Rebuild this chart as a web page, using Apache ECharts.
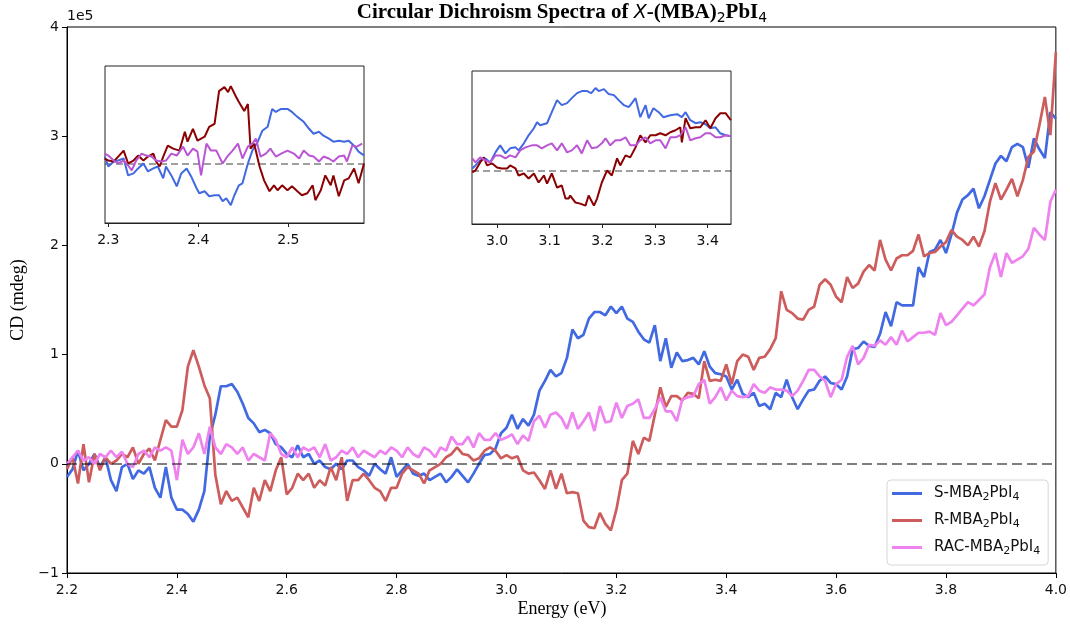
<!DOCTYPE html>
<html><head><meta charset="utf-8">
<script src="https://cdn.jsdelivr.net/npm/echarts@6/dist/echarts.min.js"></script>
<style>html,body{margin:0;padding:0;background:#fff}#c{width:1070px;height:627px}</style>
</head><body><div id="c"></div>
<script>
// ---------- DATA (CD values in units of 1e5 mdeg) ----------
const ENERGY_START = 2.20;   // eV, spectrum sampling start
const ENERGY_STEP = 0.01;    // eV, sampling step

const S_MBA = [
-0.12,-0.05,0.12,-0.06,0.00,0.09,-0.03,0.06,-0.15,-0.25,
-0.03,0.00,-0.14,-0.06,-0.09,-0.03,-0.22,-0.31,-0.03,-0.31,
-0.42,-0.42,-0.46,-0.53,-0.42,-0.25,0.25,0.45,0.71,0.71,
0.73,0.66,0.55,0.42,0.37,0.29,0.31,0.28,0.18,0.15,
0.09,0.06,0.17,0.06,0.09,0.00,0.03,-0.03,-0.05,0.00,
-0.05,0.03,0.03,-0.03,-0.06,-0.11,0.00,-0.05,-0.09,0.06,
-0.12,-0.06,0.00,-0.09,-0.11,-0.09,-0.15,-0.12,-0.09,-0.17,
-0.12,-0.05,-0.11,-0.17,-0.09,0.00,0.08,0.09,0.14,0.28,
0.33,0.45,0.32,0.41,0.35,0.45,0.67,0.76,0.86,0.80,
0.83,0.97,1.23,1.15,1.18,1.33,1.39,1.39,1.36,1.44,
1.38,1.44,1.33,1.30,1.21,1.14,1.11,1.27,0.94,1.15,
0.88,1.02,0.94,0.95,0.97,0.91,1.03,0.89,0.83,0.82,
0.80,0.68,0.77,0.64,0.61,0.65,0.53,0.55,0.50,0.65,
0.61,0.77,0.61,0.50,0.59,0.67,0.68,0.76,0.80,0.74,
0.73,0.68,0.80,1.05,1.06,1.12,1.08,1.07,1.19,1.39,
1.26,1.48,1.45,1.45,1.45,1.80,1.71,1.94,1.96,2.05,
1.93,2.10,2.30,2.42,2.46,2.52,2.34,2.45,2.60,2.75,
2.82,2.77,2.90,2.93,2.90,2.71,2.98,2.88,2.80,3.22,
3.16];

const R_MBA = [
-0.05,0.06,-0.18,0.18,-0.17,0.09,-0.06,0.06,0.00,0.03,
0.09,0.06,0.15,0.00,0.09,0.14,0.03,0.22,0.40,0.34,
0.34,0.49,0.89,1.04,0.89,0.72,0.60,-0.10,-0.37,-0.25,
-0.34,-0.31,-0.40,-0.49,-0.22,-0.34,-0.15,-0.25,-0.06,0.06,
-0.28,-0.22,-0.09,-0.15,-0.09,-0.22,-0.15,-0.20,-0.03,-0.15,
0.06,-0.34,-0.15,-0.15,-0.09,-0.15,-0.22,-0.25,-0.34,-0.22,
-0.22,-0.09,-0.03,-0.06,-0.09,-0.18,-0.06,-0.03,0.00,0.06,
0.09,0.15,0.09,0.08,0.03,0.05,0.12,0.15,0.12,0.05,
0.08,0.05,0.07,-0.06,-0.09,-0.08,-0.15,-0.23,-0.06,-0.23,
-0.09,-0.27,-0.26,-0.27,-0.52,-0.58,-0.59,-0.45,-0.55,-0.61,
-0.42,-0.15,-0.09,0.21,0.09,0.24,0.21,0.45,0.70,0.52,
0.62,0.62,0.58,0.65,0.64,0.60,0.94,0.76,0.77,0.76,
0.91,0.73,0.94,1.00,0.98,0.86,0.97,0.98,1.05,1.15,
1.58,1.41,1.38,1.33,1.32,1.41,1.44,1.64,1.69,1.64,
1.53,1.48,1.71,1.61,1.65,1.76,1.82,1.77,2.05,1.87,
1.77,1.88,1.91,1.91,1.95,2.10,1.90,1.93,1.94,1.99,
2.03,2.14,2.08,2.05,2.00,2.08,1.99,2.13,2.40,2.57,
2.42,2.51,2.61,2.45,2.60,2.81,2.86,3.10,3.36,3.01,
3.77];

const RAC_MBA = [
0.00,0.06,0.12,0.03,0.06,0.00,0.09,0.06,0.12,0.06,
0.11,0.00,-0.03,0.09,0.12,0.06,0.15,0.12,0.15,0.12,
-0.15,0.22,0.09,0.15,0.28,0.09,0.34,0.15,0.09,0.18,
0.15,0.09,0.15,0.03,0.09,0.06,0.03,0.28,0.22,0.09,
0.06,0.15,0.06,0.15,0.12,0.15,0.06,0.18,0.03,0.06,
0.12,0.09,0.15,0.06,0.12,0.09,0.06,0.12,0.09,0.15,
0.12,0.06,0.15,0.09,0.06,0.15,0.12,0.06,0.15,0.12,
0.25,0.18,0.18,0.25,0.15,0.28,0.22,0.22,0.28,0.22,
0.24,0.27,0.18,0.26,0.21,0.39,0.44,0.33,0.45,0.47,
0.42,0.32,0.47,0.32,0.39,0.47,0.30,0.53,0.38,0.39,
0.56,0.42,0.53,0.55,0.59,0.42,0.42,0.50,0.61,0.48,
0.48,0.39,0.59,0.61,0.62,0.73,0.77,0.55,0.61,0.70,
0.58,0.67,0.62,0.61,0.62,0.73,0.67,0.65,0.70,0.68,
0.68,0.67,0.62,0.67,0.76,0.86,0.86,0.80,0.76,0.61,
0.73,0.77,0.98,1.08,0.91,0.97,1.09,1.08,1.13,1.09,
1.16,1.09,1.22,1.12,1.16,1.20,1.20,1.21,1.18,1.38,
1.27,1.30,1.36,1.42,1.48,1.45,1.50,1.55,1.80,1.93,
1.71,1.93,1.84,1.87,1.90,1.97,2.16,2.10,2.05,2.40,
2.51];

// Inset 1 (2.30 - 2.58 eV), arbitrary units
const IN1_S_E = [2.296,2.300,2.306,2.311,2.317,2.322,2.328,2.333,2.339,2.344,2.350,2.355,2.361,2.364,2.370,2.376,2.381,2.387,2.392,2.398,2.401,2.407,2.412,2.418,2.423,2.427,2.431,2.436,2.440,2.445,2.449,2.455,2.460,2.466,2.471,2.477,2.482,2.486,2.492,2.499,2.504,2.510,2.517,2.523,2.528,2.534,2.539,2.545,2.550,2.556,2.562,2.567,2.573,2.578,2.584];
const IN1_S_V = [0.07,-0.03,0.02,0.03,0.05,-0.12,-0.10,-0.05,0,-0.08,-0.05,-0.03,-0.15,-0.03,-0.12,-0.23,-0.10,-0.05,-0.13,-0.25,-0.30,-0.28,-0.33,-0.32,-0.32,-0.38,-0.35,-0.42,-0.32,-0.22,-0.20,0,0.13,0.22,0.33,0.37,0.55,0.52,0.55,0.55,0.52,0.47,0.42,0.35,0.30,0.32,0.28,0.25,0.22,0.23,0.22,0.23,0.18,0.12,0.08];
const IN1_R_E = [2.296,2.300,2.306,2.311,2.317,2.322,2.328,2.333,2.339,2.344,2.350,2.353,2.357,2.361,2.366,2.372,2.379,2.385,2.388,2.394,2.399,2.407,2.412,2.418,2.423,2.429,2.433,2.436,2.442,2.445,2.451,2.455,2.458,2.462,2.468,2.473,2.479,2.484,2.488,2.493,2.499,2.504,2.510,2.515,2.521,2.527,2.530,2.536,2.541,2.547,2.550,2.556,2.562,2.567,2.573,2.578,2.584];
const IN1_R_V = [0.05,0.03,0.02,0.07,0.13,0,0.03,0.08,0.03,0.07,0.10,0.02,-0.03,0.07,0.18,0.15,0.13,0.32,0.22,0.35,0.23,0.27,0.37,0.40,0.73,0.77,0.72,0.78,0.67,0.62,0.53,0.60,0.15,0.20,-0.03,-0.17,-0.28,-0.22,-0.27,-0.22,-0.27,-0.23,-0.28,-0.32,-0.30,-0.22,-0.37,-0.27,-0.12,-0.22,-0.12,-0.33,-0.17,-0.15,-0.05,-0.20,0];
const IN1_RAC_E = [2.296,2.300,2.306,2.311,2.317,2.322,2.326,2.331,2.337,2.342,2.348,2.353,2.359,2.364,2.370,2.376,2.383,2.388,2.394,2.399,2.403,2.409,2.414,2.420,2.427,2.433,2.438,2.444,2.449,2.455,2.460,2.464,2.469,2.475,2.480,2.486,2.492,2.499,2.506,2.512,2.517,2.523,2.528,2.534,2.539,2.545,2.550,2.556,2.562,2.565,2.571,2.576,2.582];
const IN1_RAC_V = [0.10,0.08,0.03,0,0.03,-0.02,-0.07,0.03,0.10,0.08,0.07,0.03,0.02,0.03,0.10,0.08,0.17,0.08,0.15,0.12,-0.12,0.20,0.13,0.13,0,0.08,0.13,0.20,0.05,0.17,0.20,0.25,0.07,0.10,0.15,0.07,0.10,0.13,0.10,0.05,0.13,0.08,0.07,0.02,0.07,0.05,0.02,0.07,0.08,0.02,0.18,0.17,0.20];

// Inset 2 (2.95 - 3.44 eV), arbitrary units
const IN2_S_E = [2.953,2.959,2.968,2.978,2.987,2.997,3.006,3.016,3.025,3.035,3.041,3.051,3.060,3.070,3.076,3.082,3.095,3.104,3.114,3.123,3.133,3.142,3.152,3.161,3.171,3.179,3.187,3.193,3.203,3.212,3.222,3.231,3.241,3.250,3.256,3.263,3.272,3.282,3.288,3.297,3.307,3.316,3.329,3.342,3.351,3.358,3.367,3.377,3.386,3.396,3.405,3.415,3.424,3.434,3.444];
const IN2_S_V = [0.02,0.05,0.10,0.12,0.08,0.18,0.25,0.17,0.22,0.23,0.20,0.27,0.35,0.42,0.48,0.45,0.47,0.58,0.70,0.65,0.67,0.72,0.77,0.79,0.79,0.77,0.82,0.79,0.81,0.76,0.75,0.70,0.65,0.63,0.67,0.72,0.53,0.65,0.52,0.62,0.58,0.53,0.55,0.56,0.53,0.58,0.50,0.47,0.48,0.46,0.42,0.43,0.37,0.35,0.34];
const IN2_R_E = [2.953,2.959,2.968,2.975,2.981,2.991,3.000,3.009,3.019,3.025,3.035,3.041,3.051,3.060,3.070,3.079,3.089,3.095,3.104,3.114,3.123,3.130,3.136,3.139,3.149,3.158,3.168,3.174,3.184,3.190,3.199,3.209,3.218,3.228,3.234,3.244,3.253,3.263,3.272,3.282,3.291,3.301,3.310,3.320,3.329,3.339,3.348,3.351,3.358,3.367,3.377,3.386,3.396,3.405,3.415,3.424,3.434,3.444];
const IN2_R_V = [-0.02,0,0.08,0.13,0.05,0.07,0.03,0.02,0.02,0.05,0.02,-0.05,-0.03,-0.08,-0.03,-0.12,-0.05,-0.13,-0.03,-0.17,-0.15,-0.28,-0.28,-0.25,-0.32,-0.33,-0.35,-0.25,-0.35,-0.28,-0.12,0,-0.05,0.12,0.05,0.15,0.13,0.23,0.35,0.28,0.35,0.35,0.37,0.35,0.38,0.40,0.43,0.28,0.52,0.42,0.43,0.43,0.50,0.42,0.52,0.57,0.57,0.50];
const IN2_RAC_E = [2.953,2.959,2.968,2.978,2.987,2.997,3.006,3.016,3.025,3.035,3.044,3.054,3.066,3.076,3.085,3.095,3.104,3.114,3.123,3.133,3.142,3.152,3.161,3.171,3.180,3.190,3.199,3.206,3.215,3.225,3.234,3.244,3.253,3.263,3.272,3.282,3.291,3.301,3.310,3.320,3.329,3.339,3.348,3.358,3.367,3.377,3.386,3.396,3.405,3.415,3.424,3.434,3.444];
const IN2_RAC_V = [0.12,0.08,0.13,0.10,0.08,0.15,0.15,0.12,0.15,0.13,0.20,0.23,0.25,0.25,0.22,0.25,0.27,0.20,0.27,0.18,0.20,0.25,0.17,0.30,0.22,0.23,0.27,0.32,0.25,0.30,0.30,0.33,0.25,0.25,0.30,0.33,0.27,0.30,0.30,0.22,0.33,0.33,0.35,0.43,0.30,0.32,0.33,0.37,0.37,0.33,0.33,0.35,0.34];

const X_TICKS = [2.2,2.4,2.6,2.8,3.0,3.2,3.4,3.6,3.8,4.0];
const Y_TICKS = [-1,0,1,2,3,4];
const IN1_TICKS = [2.3,2.4,2.5];
const IN2_TICKS = [3.0,3.1,3.2,3.3,3.4];
const SERIES_NAMES = ['S-MBA2PbI4','R-MBA2PbI4','RAC-MBA2PbI4'];

// ---------- BUILD ----------
const mainPairs = arr => arr.map((v,i)=>[+(ENERGY_START + i*ENERGY_STEP).toFixed(2), v]);
const zip = (xs, ys) => xs.map((x,i)=>[x, ys[i]]);

const TICK_FONT = {fontFamily:'DejaVu Sans', fontSize:14, color:'#111'};
const C_S='#4169E1', C_R='#CD5C5C', C_RAC='#EE82EE';
const C_S2='#4169E1', C_R2='#8B0000', C_RAC2='#BA55D3';

function lineSeries(name, data, color, xi, width, z){
  return {name, type:'line', data, xAxisIndex:xi, yAxisIndex:xi, showSymbol:false, symbol:'none',
    lineStyle:{color, width}, itemStyle:{color}, z: z||2, animation:false};
}
function zeroLine(width, dash){
  return {silent:true, symbol:['none','none'], label:{show:false},
    lineStyle:{type:dash, color:'rgba(0,0,0,0.5)', width}, data:[{yAxis:0}], animation:false};
}
function insetX(min, max, ticks){
  return {type:'value', min, max, position:'bottom',
    axisLine:{show:true, onZero:false, lineStyle:{color:'#222', width:1}},
    axisTick:{show:true, inside:false, length:4, customValues:ticks, lineStyle:{color:'#222'}},
    axisLabel:Object.assign({show:true, margin:10, customValues:ticks, formatter:v=>v.toFixed(1)}, TICK_FONT),
    splitLine:{show:false}};
}
function insetY(min, max){
  return {type:'value', min, max, show:false, splitLine:{show:false}};
}

const sRac = lineSeries(SERIES_NAMES[2], mainPairs(RAC_MBA), C_RAC, 0, 2.7, 4);
sRac.markLine = zeroLine(2, [10,5]);

const in1Rac = lineSeries('in1-rac', zip(IN1_RAC_E, IN1_RAC_V), C_RAC2, 1, 2, 6);
in1Rac.markLine = zeroLine(1.6, [7,4]);
const in2Rac = lineSeries('in2-rac', zip(IN2_RAC_E, IN2_RAC_V), C_RAC2, 2, 2, 6);
in2Rac.markLine = zeroLine(1.6, [7,4]);

const richLegend = {
  sp:{width:7},
  a:{fontFamily:'DejaVu Sans', fontSize:15, lineHeight:19, color:'#111'},
  s:{fontFamily:'DejaVu Sans', fontSize:11, lineHeight:11, verticalAlign:'bottom', color:'#111'}
};

const option = {
  animation:false,
  backgroundColor:'#fff',
  grid:[
    {left:67, top:27, width:990, height:546, show:true, borderColor:'#000', borderWidth:1, backgroundColor:'#fff'},
    {left:105, top:66, width:259, height:157, show:true, borderColor:'#222', borderWidth:1, backgroundColor:'#fff', z:5},
    {left:472, top:71, width:259, height:153, show:true, borderColor:'#222', borderWidth:1, backgroundColor:'#fff', z:5}
  ],
  xAxis:[
    {type:'value', gridIndex:0, min:2.2, max:4.0,
      axisLine:{show:true, onZero:false, lineStyle:{color:'#000', width:1}},
      axisTick:{show:true, length:5, customValues:X_TICKS, lineStyle:{color:'#000'}},
      axisLabel:Object.assign({margin:10, customValues:X_TICKS, formatter:v=>v.toFixed(1)}, TICK_FONT),
      splitLine:{show:false}},
    Object.assign(insetX(2.2963, 2.584, IN1_TICKS), {gridIndex:1}),
    Object.assign(insetX(2.9525, 3.4443, IN2_TICKS), {gridIndex:2})
  ],
  yAxis:[
    {type:'value', gridIndex:0, min:-1, max:4,
      axisLine:{show:true, onZero:false, lineStyle:{color:'#000', width:1}},
      axisTick:{show:true, length:5, customValues:Y_TICKS, lineStyle:{color:'#000'}},
      axisLabel:Object.assign({margin:8, customValues:Y_TICKS, formatter:v=> v<0 ? '\u2212'+Math.abs(v) : String(v)}, TICK_FONT),
      splitLine:{show:false}},
    Object.assign(insetY(-0.6, 0.983), {gridIndex:1}),
    Object.assign(insetY(-0.533, 0.99), {gridIndex:2})
  ],
  legend:{
    data:SERIES_NAMES, orient:'vertical', left:887, top:480,
    padding:[6,8,8,5], itemGap:10, itemWidth:30, itemHeight:3, icon:'rect',
    backgroundColor:'#fff', borderColor:'#d6d6d6', borderWidth:1, borderRadius:4,
    formatter: name => { const p = name.split('-MBA2PbI4')[0]; return '{sp|}{a|'+p+'-MBA}{s|2}{a|PbI}{s|4}'; },
    textStyle:{rich:richLegend}
  },
  graphic:[
    {type:'text', x:562, y:13, z:100, style:{
      text:'{b|Circular Dichroism Spectra of }{i|X}{b|-(MBA)}{s|2}{b|PbI}{s|4}',
      align:'center', verticalAlign:'middle',
      rich:{
        b:{fontFamily:'Liberation Serif', fontWeight:'bold', fontSize:21, lineHeight:24, fill:'#000'},
        i:{fontFamily:'DejaVu Sans', fontStyle:'italic', fontSize:19, lineHeight:24, fill:'#000'},
        s:{fontFamily:'DejaVu Sans', fontSize:14, lineHeight:14, verticalAlign:'bottom', fill:'#000'}
      }}},
    {type:'text', x:67, y:16, z:100, style:{text:'1e5', fontFamily:'DejaVu Sans', fontSize:14, fill:'#111', align:'left', verticalAlign:'middle'}},
    {type:'text', x:562, y:609, z:100, style:{text:'Energy (eV)', fontFamily:'Liberation Serif', fontSize:18, fill:'#000', align:'center', verticalAlign:'middle'}},
    {type:'text', x:18, y:300, rotation:Math.PI/2, z:100, style:{text:'CD (mdeg)', fontFamily:'Liberation Serif', fontSize:18, fill:'#000', align:'center', verticalAlign:'middle'}}
  ],
  series:[
    lineSeries(SERIES_NAMES[0], mainPairs(S_MBA), C_S, 0, 2.7, 2),
    lineSeries(SERIES_NAMES[1], mainPairs(R_MBA), C_R, 0, 2.7, 3),
    sRac,
    lineSeries('in1-s', zip(IN1_S_E, IN1_S_V), C_S2, 1, 2, 6),
    lineSeries('in1-r', zip(IN1_R_E, IN1_R_V), C_R2, 1, 2, 6),
    in1Rac,
    lineSeries('in2-s', zip(IN2_S_E, IN2_S_V), C_S2, 2, 2, 6),
    lineSeries('in2-r', zip(IN2_R_E, IN2_R_V), C_R2, 2, 2, 6),
    in2Rac
  ]
};
const chart = echarts.init(document.getElementById('c'), null, {renderer:'canvas'});
chart.setOption(option);
</script></body></html>
